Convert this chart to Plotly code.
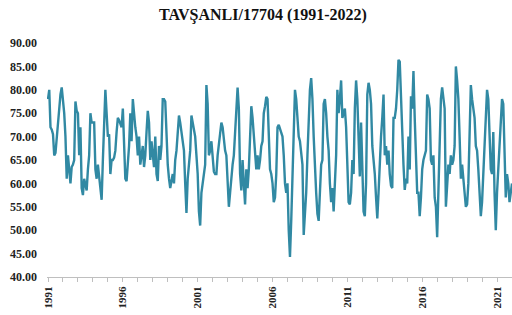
import plotly.graph_objects as go

title_text = "TAVŞANLI/17704 (1991-2022)"

# Monthly values (Jan 1991 onward)
h1991_1995 = [78, 80, 72, 71.5, 70.5, 66, 66.5, 70, 73, 77, 79, 80.5,
              78, 75, 70, 61, 66, 62, 60, 63.5, 64, 65, 77.5, 75.5,
              75, 66, 72, 59, 57.5, 61, 60, 58.5, 63, 66, 75, 73,
              73, 73, 63, 61, 64, 61, 58, 56.5, 65, 73, 80, 75,
              70, 70.5, 62, 65, 65, 65.5, 67, 71, 74, 73.5, 72.5, 72]
h1996_2000 = [76, 66, 61, 60.5, 64, 68, 75, 69, 78, 74, 72, 70,
              66, 70, 64, 66, 68, 63.5, 66, 71, 75.5, 73, 65, 69,
              66, 63.5, 70, 62, 60.5, 68, 65, 68, 78, 78, 77.5, 70,
              64, 61, 59, 60.5, 62, 60, 65, 67, 70, 74.5, 73, 71,
              70, 67, 60, 53.7, 61, 64, 67, 74.5, 73, 72, 70, 66]
h2001_2005 = [62, 54, 51, 58, 60, 62, 64, 81, 77, 66, 67, 69,
              66, 62.5, 62, 62, 66, 68, 70, 73, 72, 69, 67, 66,
              60, 55, 58, 62, 64, 66, 71, 77, 80.5, 76, 62, 58.5,
              65, 60, 55.5, 63, 59, 63, 72, 76.5, 74, 70, 66, 63,
              66, 63, 65, 68, 69, 75, 76.5, 78.5, 78, 72, 63, 62]
h2006_2010 = [60, 56, 57, 62, 72, 72.5, 71.5, 71, 70, 66, 60, 58,
              60, 50, 44.3, 52, 60, 72, 80, 78, 74, 70, 69, 67,
              64, 49, 53, 58, 66, 73, 80, 82.5, 78, 70, 63, 58,
              53.5, 52, 58, 64, 65, 77, 78, 75, 70, 67, 60, 56,
              59, 54, 60, 66, 80, 75, 78, 82, 74, 75, 76, 72]
h2011_2015 = [63, 56, 55.5, 58, 65, 62, 76, 82, 78, 70, 61.5, 73,
              62, 54, 53, 60, 79, 81.5, 80, 77, 68, 65, 62, 57,
              52.5, 58, 66, 70, 74, 79, 66, 68, 64, 67, 62, 59.5,
              59, 74, 74, 76, 80, 86.4, 86, 77, 72, 64, 58.6, 61,
              60, 70, 63, 78.6, 76, 84, 74, 63, 58, 58, 53, 57]
h2016_2020 = [63, 65, 66, 67, 79, 78, 76, 65, 64, 66, 57, 55,
              48.5, 57, 65, 78, 80.5, 78, 76, 55, 60, 64, 62, 66,
              64, 65, 68, 85, 82, 78, 70, 61, 64, 60, 58, 55,
              55.5, 60, 72, 81, 78, 76, 74, 68, 67, 63, 56, 53,
              56, 62, 65, 72, 80, 78, 72, 63, 62, 71, 58, 50]
h2021_2022 = [58, 63, 68, 74, 78, 77, 65, 57, 62, 60, 56, 58, 60]

year_labels = ["1991", "1996", "2001", "2006", "2011", "2016", "2021"]
y_ticks = [40, 45, 50, 55, 60, 65, 70, 75, 80, 85, 90]

values = h1991_1995 + h1996_2000 + h2001_2005 + h2006_2010 + h2011_2015 + h2016_2020 + h2021_2022
months = list(range(len(values)))
label_pos = [i * 60 for i in range(len(year_labels))]

font_family = "Liberation Serif, Times New Roman, serif"

fig = go.Figure()
fig.add_trace(go.Scatter(x=months, y=values, mode="lines",
                         line=dict(color="#3189A3", width=2.4),
                         hoverinfo="skip", showlegend=False))

fig.update_layout(
    width=512, height=315,
    margin=dict(l=47, r=0, t=43, b=38),
    paper_bgcolor="white", plot_bgcolor="white",
    title=dict(text=title_text, x=263 / 512, xref="container", xanchor="center",
               y=1 - 14 / 315, yref="container", yanchor="middle",
               font=dict(family=font_family, size=16, color="#111111", weight="bold")),
    font=dict(family=font_family),
)

fig.update_xaxes(
    range=[-0.8, 372], showgrid=False, zeroline=False,
    showline=True, linecolor="#bfbfbf", linewidth=1,
    tickmode="array", tickvals=label_pos, ticktext=year_labels,
    tickangle=-90, ticks="outside", ticklen=4, tickcolor="#bfbfbf",
    tickfont=dict(family=font_family, size=11, color="#222222", weight="bold"),
    minor=dict(tick0=0, dtick=12, ticks="outside", ticklen=4, tickcolor="#bfbfbf"),
)
fig.update_yaxes(
    range=[40, 90], showgrid=False, zeroline=False, showline=False,
    tickmode="array", tickvals=y_ticks, tickformat=".2f",
    ticklabelstandoff=9,
    tickfont=dict(family=font_family, size=12, color="#222222", weight="bold"),
)

fig.write_html("out.html",
               config={"displayModeBar": False, "staticPlot": True},
               post_script="document.body.style.margin='0';document.body.style.overflow='hidden';")
